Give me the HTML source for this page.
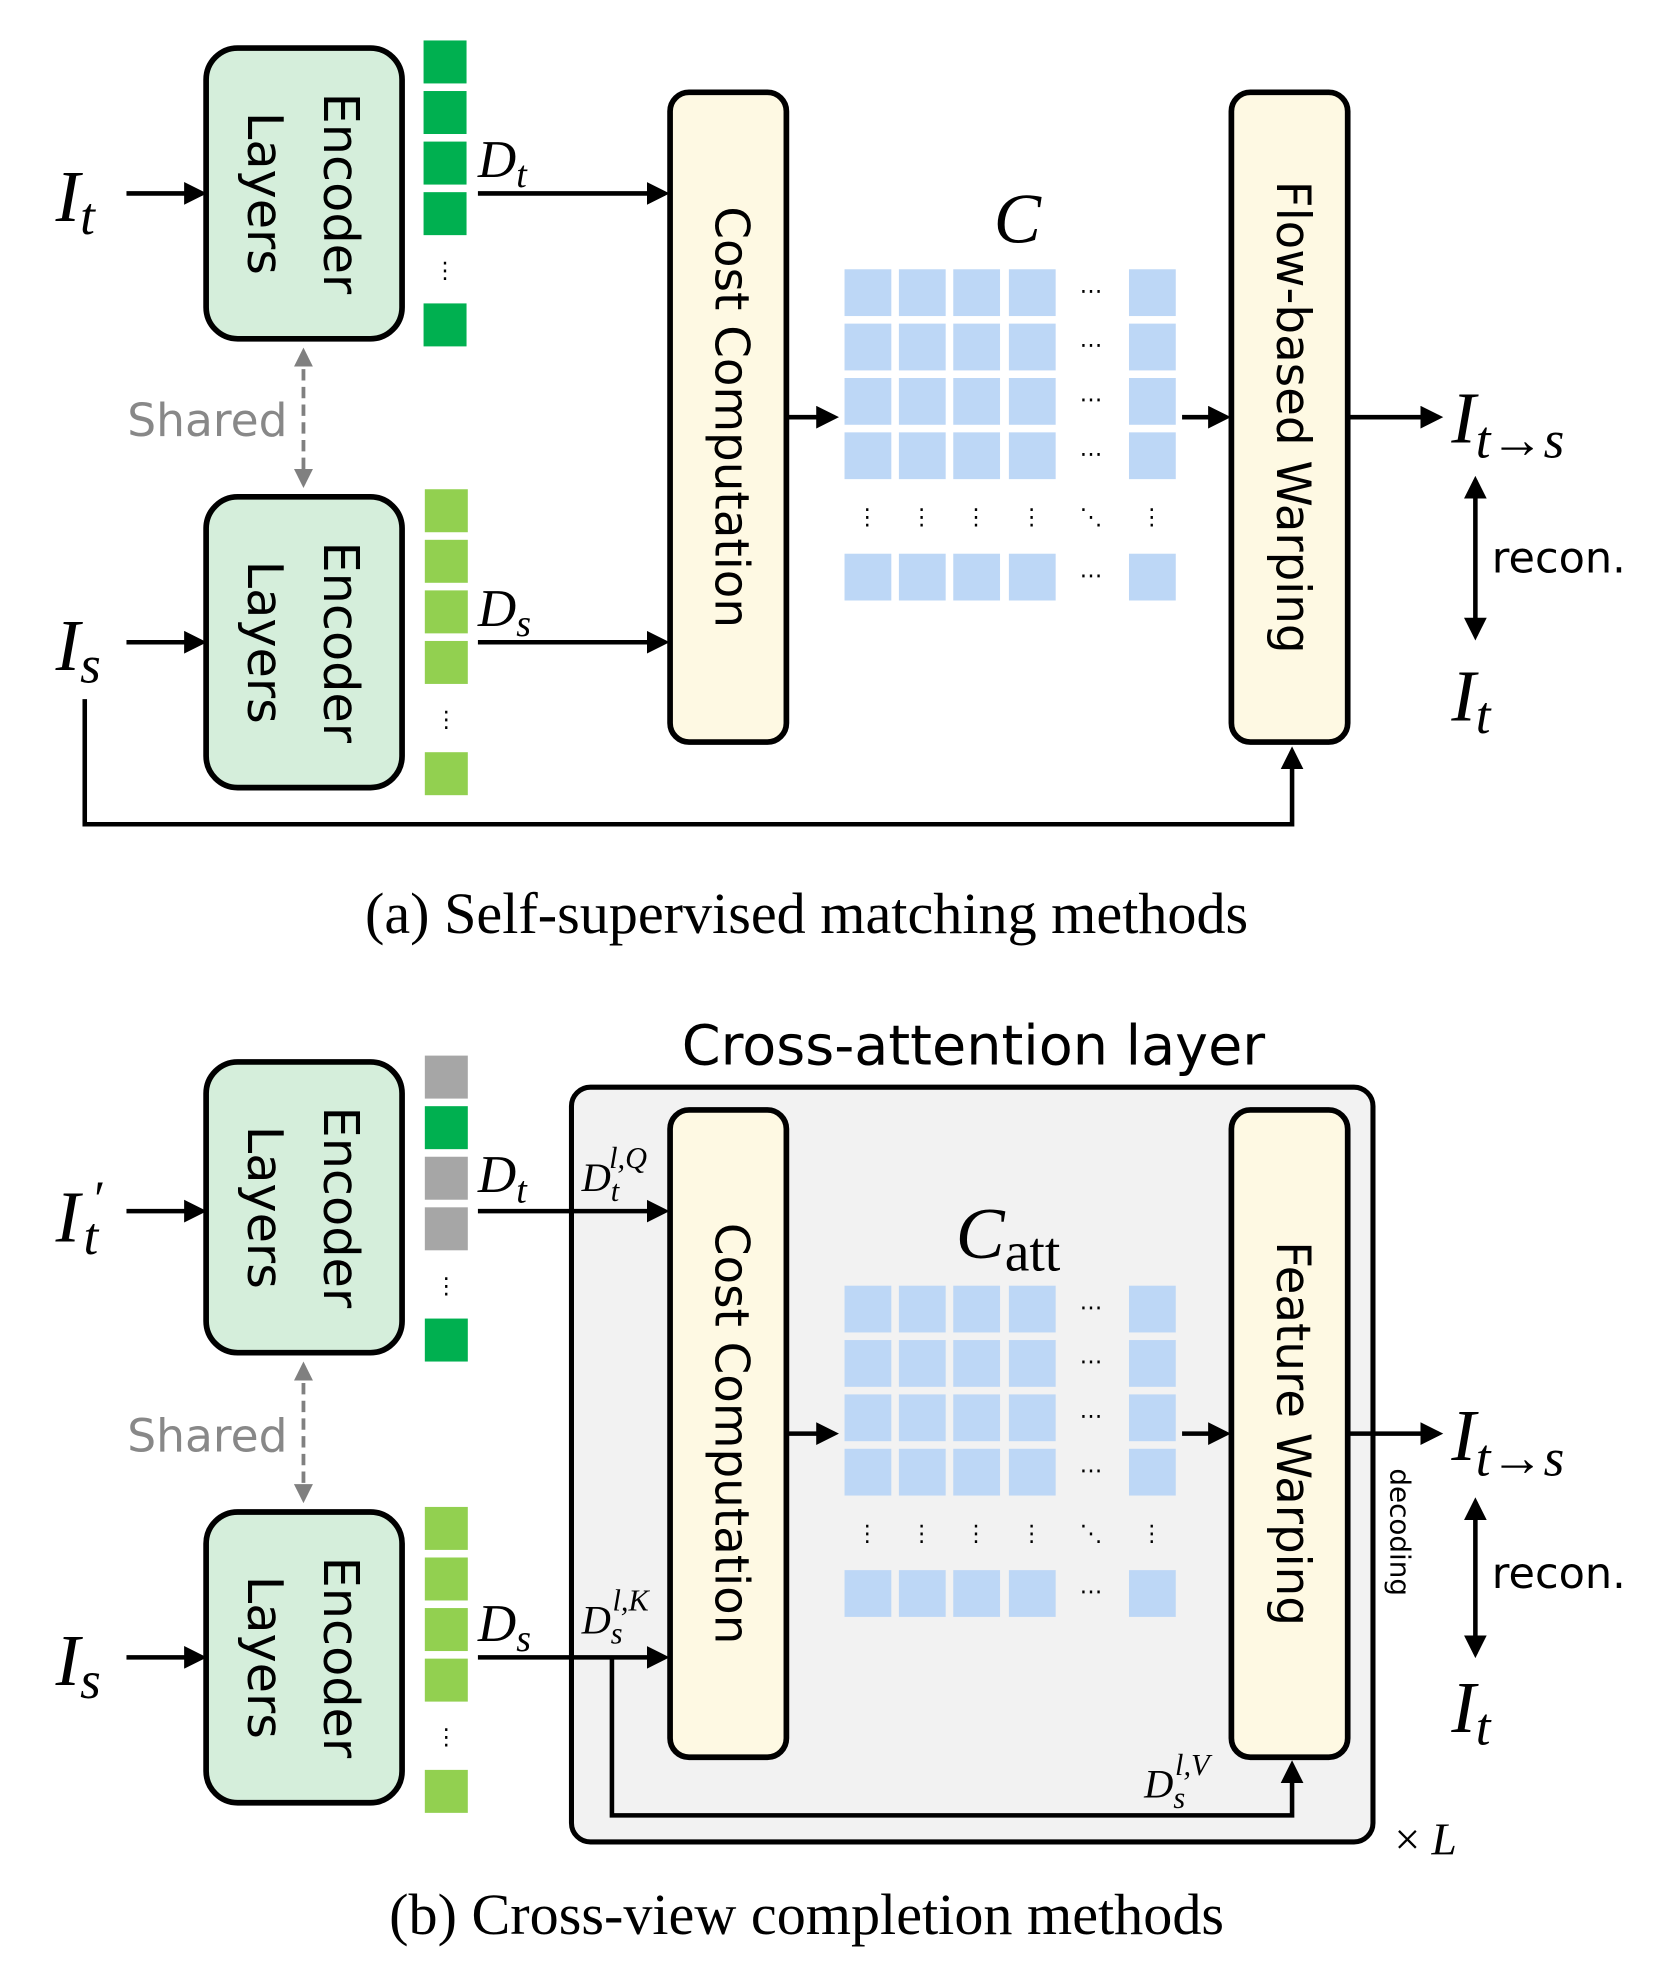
<!DOCTYPE html>
<html><head><meta charset="utf-8"><style>html,body{margin:0;padding:0;background:#fff}svg{display:block}</style></head><body>
<svg width="1660" height="1981" viewBox="0 0 1313 1567" xmlns="http://www.w3.org/2000/svg">
<defs>
<marker id="ah" markerWidth="5" markerHeight="5" refX="4" refY="2.5" orient="auto" markerUnits="strokeWidth"><path d="M0,0 L5,2.5 L0,5 z" fill="#000"/></marker>
<marker id="ahg" markerWidth="5" markerHeight="5" refX="4" refY="2.5" orient="auto-start-reverse" markerUnits="strokeWidth"><path d="M0,0 L5,2.5 L0,5 z" fill="#808080"/></marker>
<marker id="ahb" markerWidth="5" markerHeight="5" refX="4" refY="2.5" orient="auto-start-reverse" markerUnits="strokeWidth"><path d="M0,0 L5,2.5 L0,5 z" fill="#000"/></marker>
</defs>
<style>
.m{font-family:"Liberation Serif",serif;font-style:italic}
.s{font-family:"DejaVu Sans","Liberation Sans",sans-serif}
.ln{stroke:#000;stroke-width:3.6;fill:none}
</style>

<!-- ===== Panel A ===== -->
<rect x="163" y="38" width="155" height="230" rx="25" fill="#d5eedb" stroke="#000" stroke-width="4.5"/>
<text class="s" font-size="39" transform="translate(267,153) rotate(90)" text-anchor="middle" dominant-baseline="middle">Encoder</text>
<text class="s" font-size="39" transform="translate(207,153) rotate(90)" text-anchor="middle" dominant-baseline="middle">Layers</text>
<rect x="163" y="393" width="155" height="230" rx="25" fill="#d5eedb" stroke="#000" stroke-width="4.5"/>
<text class="s" font-size="39" transform="translate(267,508) rotate(90)" text-anchor="middle" dominant-baseline="middle">Encoder</text>
<text class="s" font-size="39" transform="translate(207,508) rotate(90)" text-anchor="middle" dominant-baseline="middle">Layers</text>

<g fill="#00b050"><rect x="335" y="32" width="34" height="34"/><rect x="335" y="72" width="34" height="34"/><rect x="335" y="112" width="34" height="34"/><rect x="335" y="152" width="34" height="34"/><rect x="335" y="240" width="34" height="34"/></g>
<text x="352" y="220" font-size="18" text-anchor="middle" class="s">⋮</text>
<g fill="#92d050"><rect x="336" y="387" width="34" height="34"/><rect x="336" y="427" width="34" height="34"/><rect x="336" y="467" width="34" height="34"/><rect x="336" y="507" width="34" height="34"/><rect x="336" y="595" width="34" height="34"/></g>
<text x="353" y="575" font-size="18" text-anchor="middle" class="s">⋮</text>

<text class="m" x="44" y="175" font-size="58">I<tspan font-size="42" dy="10">t</tspan></text>
<line x1="100" y1="153" x2="160" y2="153" class="ln" marker-end="url(#ah)"/>
<text class="m" x="44" y="530" font-size="58">I<tspan font-size="42" dy="10">s</tspan></text>
<line x1="100" y1="508" x2="160" y2="508" class="ln" marker-end="url(#ah)"/>

<text class="s" x="164" y="345" font-size="36" fill="#888" text-anchor="middle">Shared</text>
<line x1="240" y1="278" x2="240" y2="383" stroke="#808080" stroke-width="3" stroke-dasharray="9,5" marker-start="url(#ahg)" marker-end="url(#ahg)"/>

<text class="m" x="378" y="140" font-size="42">D<tspan font-size="30" dy="8">t</tspan></text>
<line x1="378" y1="153" x2="526" y2="153" class="ln" marker-end="url(#ah)"/>
<text class="m" x="378" y="495" font-size="42">D<tspan font-size="30" dy="8">s</tspan></text>
<line x1="378" y1="508" x2="526" y2="508" class="ln" marker-end="url(#ah)"/>

<rect x="530" y="73" width="92" height="514" rx="15" fill="#fef9e3" stroke="#000" stroke-width="4.5"/>
<text class="s" font-size="37" transform="translate(576,330) rotate(90)" text-anchor="middle" dominant-baseline="middle">Cost Computation</text>
<line x1="622" y1="330" x2="660" y2="330" class="ln" marker-end="url(#ah)"/>

<text class="m" x="786" y="192" font-size="56">C</text>
<g fill="#bdd7f6">
<rect x="668" y="213" width="37" height="37"/><rect x="711" y="213" width="37" height="37"/><rect x="754" y="213" width="37" height="37"/><rect x="798" y="213" width="37" height="37"/><rect x="893" y="213" width="37" height="37"/>
<rect x="668" y="256" width="37" height="37"/><rect x="711" y="256" width="37" height="37"/><rect x="754" y="256" width="37" height="37"/><rect x="798" y="256" width="37" height="37"/><rect x="893" y="256" width="37" height="37"/>
<rect x="668" y="299" width="37" height="37"/><rect x="711" y="299" width="37" height="37"/><rect x="754" y="299" width="37" height="37"/><rect x="798" y="299" width="37" height="37"/><rect x="893" y="299" width="37" height="37"/>
<rect x="668" y="342" width="37" height="37"/><rect x="711" y="342" width="37" height="37"/><rect x="754" y="342" width="37" height="37"/><rect x="798" y="342" width="37" height="37"/><rect x="893" y="342" width="37" height="37"/>
<rect x="668" y="438" width="37" height="37"/><rect x="711" y="438" width="37" height="37"/><rect x="754" y="438" width="37" height="37"/><rect x="798" y="438" width="37" height="37"/><rect x="893" y="438" width="37" height="37"/>
</g>
<g class="s" font-size="18" text-anchor="middle">
<text x="863" y="236">⋯</text><text x="863" y="279">⋯</text><text x="863" y="322">⋯</text><text x="863" y="365">⋯</text><text x="863" y="461">⋯</text>
<text x="686" y="415">⋮</text><text x="729" y="415">⋮</text><text x="772" y="415">⋮</text><text x="816" y="415">⋮</text><text x="863" y="415">⋱</text><text x="911" y="415">⋮</text>
</g>
<line x1="935" y1="330" x2="970" y2="330" class="ln" marker-end="url(#ah)"/>

<rect x="974" y="73" width="92" height="514" rx="15" fill="#fef9e3" stroke="#000" stroke-width="4.5"/>
<text class="s" font-size="37" transform="translate(1020,330) rotate(90)" text-anchor="middle" dominant-baseline="middle">Flow-based Warping</text>
<line x1="1066" y1="330" x2="1138" y2="330" class="ln" marker-end="url(#ah)"/>
<text class="m" x="1148" y="350" font-size="58">I<tspan font-size="42" dy="12">t→s</tspan></text>
<line x1="1167" y1="380" x2="1167" y2="503" class="ln" marker-start="url(#ahb)" marker-end="url(#ahb)"/>
<text class="s" x="1180" y="453" font-size="34">recon.</text>
<text class="m" x="1148" y="570" font-size="58">I<tspan font-size="42" dy="10">t</tspan></text>

<polyline points="67,553 67,652 1022,652 1022,594" class="ln" marker-end="url(#ah)"/>

<text x="638" y="738" font-family="Liberation Serif,serif" font-size="46" text-anchor="middle">(a) Self-supervised matching methods</text>

<!-- ===== Panel B ===== -->
<text class="s" x="770" y="842" font-size="44" text-anchor="middle">Cross-attention layer</text>
<rect x="452" y="860" width="634" height="597" rx="15" fill="#f2f2f2" stroke="#000" stroke-width="4"/>

<rect x="163" y="840" width="155" height="230" rx="25" fill="#d5eedb" stroke="#000" stroke-width="4.5"/>
<text class="s" font-size="39" transform="translate(267,955) rotate(90)" text-anchor="middle" dominant-baseline="middle">Encoder</text>
<text class="s" font-size="39" transform="translate(207,955) rotate(90)" text-anchor="middle" dominant-baseline="middle">Layers</text>
<rect x="163" y="1196" width="155" height="230" rx="25" fill="#d5eedb" stroke="#000" stroke-width="4.5"/>
<text class="s" font-size="39" transform="translate(267,1311) rotate(90)" text-anchor="middle" dominant-baseline="middle">Encoder</text>
<text class="s" font-size="39" transform="translate(207,1311) rotate(90)" text-anchor="middle" dominant-baseline="middle">Layers</text>

<rect x="336" y="835" width="34" height="34" fill="#a6a6a6"/>
<rect x="336" y="875" width="34" height="34" fill="#00b050"/>
<rect x="336" y="915" width="34" height="34" fill="#a6a6a6"/>
<rect x="336" y="955" width="34" height="34" fill="#a6a6a6"/>
<rect x="336" y="1043" width="34" height="34" fill="#00b050"/>
<text x="353" y="1023" font-size="18" text-anchor="middle" class="s">⋮</text>
<g fill="#92d050"><rect x="336" y="1192" width="34" height="34"/><rect x="336" y="1232" width="34" height="34"/><rect x="336" y="1272" width="34" height="34"/><rect x="336" y="1312" width="34" height="34"/><rect x="336" y="1400" width="34" height="34"/></g>
<text x="353" y="1380" font-size="18" text-anchor="middle" class="s">⋮</text>

<text class="m" x="44" y="982" font-size="58">I</text>
<text class="m" x="72" y="962" font-size="40">′</text>
<text class="m" x="66" y="992" font-size="42">t</text>
<line x1="100" y1="958" x2="160" y2="958" class="ln" marker-end="url(#ah)"/>
<text class="m" x="44" y="1333" font-size="58">I<tspan font-size="42" dy="10">s</tspan></text>
<line x1="100" y1="1311" x2="160" y2="1311" class="ln" marker-end="url(#ah)"/>

<text class="s" x="164" y="1148" font-size="36" fill="#888" text-anchor="middle">Shared</text>
<line x1="240" y1="1080" x2="240" y2="1186" stroke="#808080" stroke-width="3" stroke-dasharray="9,5" marker-start="url(#ahg)" marker-end="url(#ahg)"/>

<text class="m" x="378" y="943" font-size="42">D<tspan font-size="30" dy="8">t</tspan></text>
<line x1="378" y1="958" x2="526" y2="958" class="ln" marker-end="url(#ah)"/>
<text class="m" x="460" y="942" font-size="32">D<tspan font-size="24" dy="8">t</tspan><tspan font-size="24" dx="-8" dy="-26">l,Q</tspan></text>
<text class="m" x="378" y="1298" font-size="42">D<tspan font-size="30" dy="8">s</tspan></text>
<line x1="378" y1="1311" x2="526" y2="1311" class="ln" marker-end="url(#ah)"/>
<text class="m" x="460" y="1292" font-size="32">D<tspan font-size="24" dy="8">s</tspan><tspan font-size="24" dx="-8" dy="-26">l,K</tspan></text>
<polyline points="484,1311 484,1436 1022,1436 1022,1396" class="ln" marker-end="url(#ah)"/>
<text class="m" x="905" y="1422" font-size="32">D<tspan font-size="24" dy="8">s</tspan><tspan font-size="24" dx="-8" dy="-26">l,V</tspan></text>

<rect x="530" y="878" width="92" height="512" rx="15" fill="#fef9e3" stroke="#000" stroke-width="4.5"/>
<text class="s" font-size="37" transform="translate(576,1134) rotate(90)" text-anchor="middle" dominant-baseline="middle">Cost Computation</text>
<line x1="622" y1="1134" x2="660" y2="1134" class="ln" marker-end="url(#ah)"/>

<text class="m" x="756" y="995" font-size="58">C<tspan font-style="normal" font-size="44" dy="10">att</tspan></text>
<g fill="#bdd7f6">
<rect x="668" y="1017" width="37" height="37"/><rect x="711" y="1017" width="37" height="37"/><rect x="754" y="1017" width="37" height="37"/><rect x="798" y="1017" width="37" height="37"/><rect x="893" y="1017" width="37" height="37"/>
<rect x="668" y="1060" width="37" height="37"/><rect x="711" y="1060" width="37" height="37"/><rect x="754" y="1060" width="37" height="37"/><rect x="798" y="1060" width="37" height="37"/><rect x="893" y="1060" width="37" height="37"/>
<rect x="668" y="1103" width="37" height="37"/><rect x="711" y="1103" width="37" height="37"/><rect x="754" y="1103" width="37" height="37"/><rect x="798" y="1103" width="37" height="37"/><rect x="893" y="1103" width="37" height="37"/>
<rect x="668" y="1146" width="37" height="37"/><rect x="711" y="1146" width="37" height="37"/><rect x="754" y="1146" width="37" height="37"/><rect x="798" y="1146" width="37" height="37"/><rect x="893" y="1146" width="37" height="37"/>
<rect x="668" y="1242" width="37" height="37"/><rect x="711" y="1242" width="37" height="37"/><rect x="754" y="1242" width="37" height="37"/><rect x="798" y="1242" width="37" height="37"/><rect x="893" y="1242" width="37" height="37"/>
</g>
<g class="s" font-size="18" text-anchor="middle">
<text x="863" y="1040">⋯</text><text x="863" y="1083">⋯</text><text x="863" y="1126">⋯</text><text x="863" y="1169">⋯</text><text x="863" y="1265">⋯</text>
<text x="686" y="1219">⋮</text><text x="729" y="1219">⋮</text><text x="772" y="1219">⋮</text><text x="816" y="1219">⋮</text><text x="863" y="1219">⋱</text><text x="911" y="1219">⋮</text>
</g>
<line x1="935" y1="1134" x2="970" y2="1134" class="ln" marker-end="url(#ah)"/>

<rect x="974" y="878" width="92" height="512" rx="15" fill="#fef9e3" stroke="#000" stroke-width="4.5"/>
<text class="s" font-size="37" transform="translate(1020,1134) rotate(90)" text-anchor="middle" dominant-baseline="middle">Feature Warping</text>
<line x1="1066" y1="1134" x2="1138" y2="1134" class="ln" marker-end="url(#ah)"/>
<text class="s" font-size="22" transform="translate(1106,1212) rotate(90)" text-anchor="middle" dominant-baseline="middle">decoding</text>
<text class="m" x="1148" y="1155" font-size="58">I<tspan font-size="42" dy="12">t→s</tspan></text>
<line x1="1167" y1="1188" x2="1167" y2="1308" class="ln" marker-start="url(#ahb)" marker-end="url(#ahb)"/>
<text class="s" x="1180" y="1256" font-size="34">recon.</text>
<text class="m" x="1148" y="1370" font-size="58">I<tspan font-size="42" dy="10">t</tspan></text>
<text x="1103" y="1467" font-size="36"><tspan font-family="Liberation Serif,serif">× </tspan><tspan class="m">L</tspan></text>

<text x="638" y="1530" font-family="Liberation Serif,serif" font-size="46" text-anchor="middle">(b) Cross-view completion methods</text>
</svg>
</body></html>
